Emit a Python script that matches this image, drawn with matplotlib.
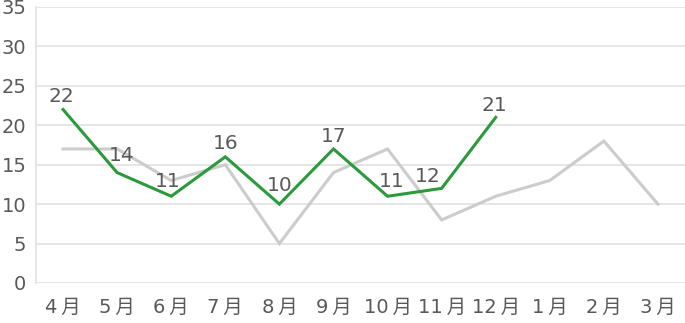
import numpy as np
import matplotlib.pyplot as plt

plt.rcParams['font.family'] = ['DejaVu Sans', 'Noto Sans CJK JP']

months = ['4月', '5月', '6月', '7月', '8月', '9月', '10月', '11月', '12月', '1月', '2月', '3月']
last_year = [17, 17, 13, 15, 5, 14, 17, 8, 11, 13, 18, 10]
this_year = [22, 14, 11, 16, 10, 17, 11, 12, 21]

# label offsets (points) for the green series, like the excel placement
label_dx = [-1.4, 3.6, -2.5, 0, 0, 0, 2.9, -10, -0.7]
label_dy = [5.4, 8.4, 6.5, 5.8, 9.4, 5, 6.5, 4.3, 4.3]

fig = plt.figure(figsize=(6.85, 3.23), dpi=100)
ax = fig.add_axes([36 / 685, 40 / 323, 649 / 685, 276 / 323])

x_all = np.arange(len(months))
ax.plot(x_all, last_year, color='#cccccc', lw=2.2, solid_joinstyle='miter', zorder=2)
x_now = np.arange(len(this_year))
ax.plot(x_now, this_year, color='#2a9a3a', lw=2.2, solid_joinstyle='miter', zorder=3)

for xi, v, dx, dy in zip(x_now, this_year, label_dx, label_dy):
    ax.annotate(str(v), (xi, v), xytext=(dx, dy), textcoords='offset points',
                ha='center', va='baseline', fontsize=14.5, color='#595959', zorder=4)

ax.set_xlim(-0.5, len(months) - 0.5)
ax.set_ylim(0, 35)
ax.set_yticks(np.arange(0, 36, 5))
ax.set_xticks(x_all)
# thin space between number and 月 like the original
ax.set_xticklabels([m[:-1] + '\u2009' + m[-1] for m in months])
ax.grid(axis='y', color='#e2e2e2', lw=1.2)
ax.set_axisbelow(True)
for s in ['top', 'right', 'bottom']:
    ax.spines[s].set_visible(False)
ax.spines['left'].set_color('#e2e2e2')
ax.spines['left'].set_linewidth(1.2)
ax.tick_params(axis='both', length=0, labelsize=14, labelcolor='#595959')
ax.tick_params(axis='y', pad=7)
ax.tick_params(axis='x', pad=11)

fig.savefig('out.png', dpi=100)
